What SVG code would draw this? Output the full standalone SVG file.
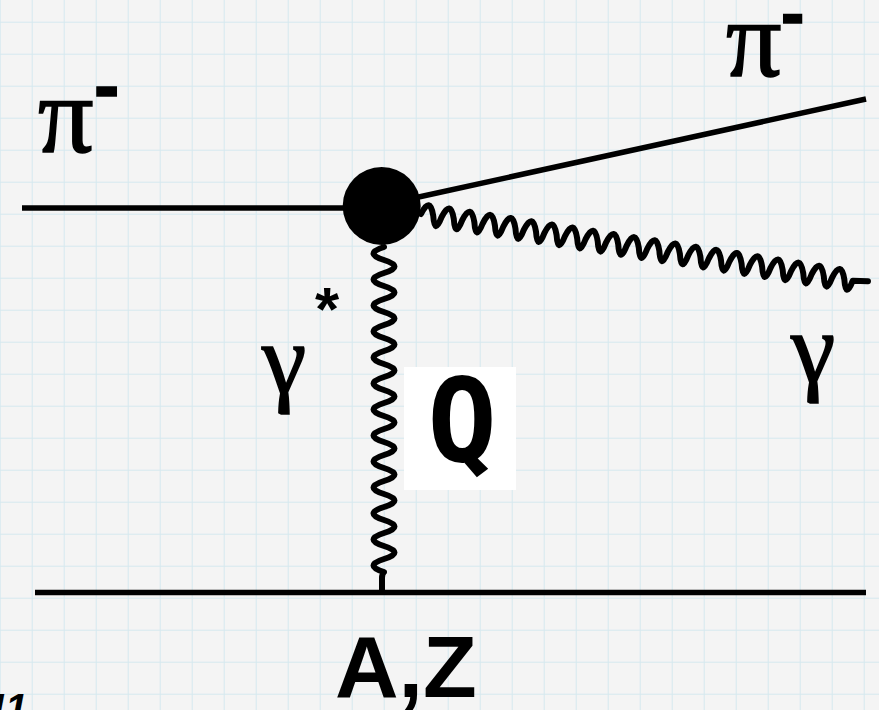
<svg xmlns="http://www.w3.org/2000/svg" width="879" height="710" viewBox="0 0 879 710">
<defs>
<pattern id="grid" x="31.7" y="21.7" width="32" height="32" patternUnits="userSpaceOnUse">
<path d="M0,0 V32 M0,0 H32" fill="none" stroke="#d5e8ef" stroke-width="2"/>
</pattern>
</defs>
<style>
.ln{fill:none;stroke:#000;stroke-width:5.5;stroke-linecap:butt}
.wv{fill:none;stroke:#000;stroke-width:6;stroke-linecap:round;stroke-linejoin:round}
.gr{font-family:"Liberation Serif","Times New Roman",serif;fill:#000;stroke:#000;stroke-width:1.6}
.mn{font-family:"Liberation Sans",Arial,sans-serif;font-weight:bold;fill:#000}
.bar{stroke:#000;stroke-width:1.5}
</style>
<rect width="879" height="710" fill="#f4f4f4"/>
<rect width="879" height="710" fill="url(#grid)"/>
<g id="connectors">
<line class="ln" x1="22" y1="208" x2="360" y2="208"/>
<line class="ln" x1="405" y1="200" x2="866" y2="99"/>
<line class="ln" x1="35" y1="592.5" x2="866" y2="592.5"/>
<path class="wv" d="M384,247 c-14,4.33 -14,8.67 0,13 s14,8.67 0,13 s-14,8.67 0,13 s14,8.67 0,13 s-14,8.67 0,13 s14,8.67 0,13 s-14,8.67 0,13 s14,8.67 0,13 s-14,8.67 0,13 s14,8.67 0,13 s-14,8.67 0,13 s14,8.67 0,13 s-14,8.67 0,13 s14,8.67 0,13 s-14,8.67 0,13 s14,8.67 0,13 s-14,8.67 0,13 s14,8.67 0,13 s-14,8.67 0,13 s14,8.67 0,13 s-14,8.67 0,13 s14,8.67 0,13 s-14,8.67 0,13 s14,8.67 0,13 s-14,8.67 0,13 q-2,2 -2,6 L382,591"/>
<path class="wv" transform="translate(421,214) rotate(8.8)" d="M0,0 c4.13,-13 8.27,-13 12.4,0 c2.8,13 5.6,13 8.4,0 c4.13,-13 8.27,-13 12.4,0 c2.8,13 5.6,13 8.4,0 c4.13,-13 8.27,-13 12.4,0 c2.8,13 5.6,13 8.4,0 c4.13,-13 8.27,-13 12.4,0 c2.8,13 5.6,13 8.4,0 c4.13,-13 8.27,-13 12.4,0 c2.8,13 5.6,13 8.4,0 c4.13,-13 8.27,-13 12.4,0 c2.8,13 5.6,13 8.4,0 c4.13,-13 8.27,-13 12.4,0 c2.8,13 5.6,13 8.4,0 c4.13,-13 8.27,-13 12.4,0 c2.8,13 5.6,13 8.4,0 c4.13,-13 8.27,-13 12.4,0 c2.8,13 5.6,13 8.4,0 c4.13,-13 8.27,-13 12.4,0 c2.8,13 5.6,13 8.4,0 c4.13,-13 8.27,-13 12.4,0 c2.8,13 5.6,13 8.4,0 c4.13,-13 8.27,-13 12.4,0 c2.8,13 5.6,13 8.4,0 c4.13,-13 8.27,-13 12.4,0 c2.8,13 5.6,13 8.4,0 c4.13,-13 8.27,-13 12.4,0 c2.8,13 5.6,13 8.4,0 c4.13,-13 8.27,-13 12.4,0 c2.8,13 5.6,13 8.4,0 c4.13,-13 8.27,-13 12.4,0 c2.8,13 5.6,13 8.4,0 c4.13,-13 8.27,-13 12.4,0 c2.8,13 5.6,13 8.4,0 c4.13,-13 8.27,-13 12.4,0 c2.8,13 5.6,13 8.4,0 c4.13,-13 8.27,-13 12.4,0 c2.8,13 5.6,13 8.4,0 c4.13,-13 8.27,-13 12.4,0 c2.8,13 5.6,13 8.4,0 c4.13,-13 8.27,-13 12.4,0 c2.8,13 5.6,13 8.4,0 L452,-2"/>
</g>
<g id="vertex">
<circle cx="381.7" cy="206" r="39" fill="#000"/>
</g>
<g id="pi-in-label">
<text x="38" y="152"><tspan class="gr" font-size="110">π</tspan><tspan class="mn bar" x="94" y="111" font-size="76">-</tspan></text>
</g>
<g id="pi-out-label">
<text x="726" y="76"><tspan class="gr" font-size="110">π</tspan><tspan class="mn bar" x="781" y="37" font-size="70">-</tspan></text>
</g>
<g id="gamma-star-label">
<text x="262" y="393"><tspan class="gr" font-size="100">γ</tspan><tspan class="mn" x="315" y="330" font-size="62">*</tspan></text>
</g>
<g id="gamma-out-label">
<text class="gr" x="791" y="382" font-size="100">γ</text>
</g>
<g id="q-label">
<rect x="404" y="367" width="112" height="123" fill="#fff"/>
<text x="462" y="461" font-size="115" text-anchor="middle" font-family="'DejaVu Sans Mono',monospace" font-weight="bold">Q</text>
</g>
<g id="nucleus-label">
<text class="mn" x="335" y="697" font-size="88">A,Z</text>
</g>
<g id="corner-label">
<text x="-14" y="722" font-size="40" font-family="'Liberation Sans',Arial,sans-serif" font-weight="bold" font-style="italic">11</text>
</g>
</svg>
